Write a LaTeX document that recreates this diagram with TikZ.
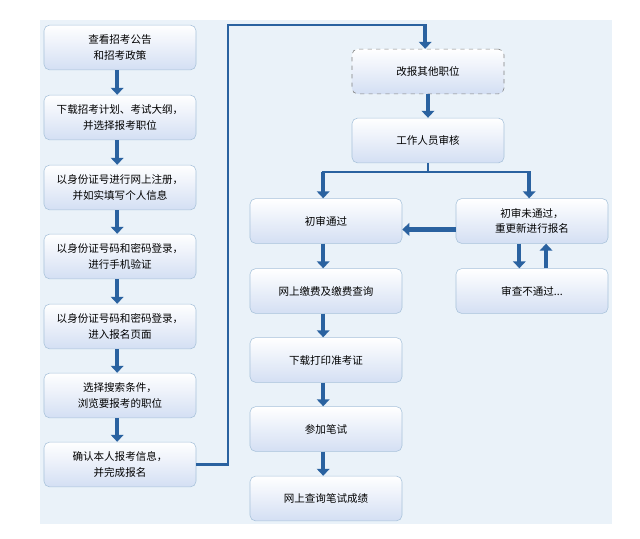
\documentclass[tikz,border=0pt]{standalone}
\usepackage{fontspec}
\newfontfamily\cjk{Noto Sans CJK SC}
\usetikzlibrary{arrows.meta}
\definecolor{pfeil}{HTML}{2A62A0}
\definecolor{rand}{HTML}{A9C3DB}
\definecolor{hell}{HTML}{EAF2F9}
\tikzset{
	kasten/.style={draw=rand, rounded corners=4pt, top color=white, bottom color=blue!5!hell!80!rand,
		minimum width=3.8cm, minimum height=1.12cm, align=center,
		font=\cjk\fontsize{7.5}{11}\selectfont},
	pfeilstil/.style={draw=pfeil, line width=3pt, -{Triangle[length=5pt,width=9pt]}},
	linie/.style={draw=pfeil, line width=2pt}
}
\begin{document}
\begin{tikzpicture}[x=0.025cm, y=-0.025cm]
	\useasboundingbox (0,0) rectangle (640,539);
	% Hintergrund
	\fill[hell] (40,20) rectangle (612,524);
	% linke Spalte
	\node[kasten] (k1) at (120,47.5) {查看招考公告\\和招考政策};
	\node[kasten] (k2) at (120,117.5) {下载招考计划、考试大纲，\\并选择报考职位};
	\node[kasten] (k3) at (120,187.5) {以身份证号进行网上注册，\\并如实填写个人信息};
	\node[kasten] (k4) at (120,256.5) {以身份证号码和密码登录，\\进行手机验证};
	\node[kasten] (k5) at (120,326.5) {以身份证号码和密码登录，\\进入报名页面};
	\node[kasten] (k6) at (120,395.5) {选择搜索条件，\\浏览要报考的职位};
	\node[kasten] (k7) at (120,464.5) {确认本人报考信息，\\并完成报名};
	\foreach \a/\b in {k1/k2,k2/k3,k3/k4,k4/k5,k5/k6,k6/k7}
		\draw[pfeilstil] ([xshift=-2pt]\a.south) -- ([xshift=-2pt]\b.north);
	% rechte Seite
	\node[kasten, dashed, draw=gray] (andere) at (428,71.5) {改报其他职位};
	\node[kasten] (pruef) at (428,140.5) {工作人员审核};
	\node[kasten] (ok) at (326,221) {初审通过};
	\node[kasten] (nok) at (532,221) {初审未通过，\\重更新进行报名};
	\node[kasten] (nein) at (532,291) {审查不通过...};
	\node[kasten] (zahl) at (326,291) {网上缴费及缴费查询};
	\node[kasten] (druck) at (326,360) {下载打印准考证};
	\node[kasten] (test) at (326,429) {参加笔试};
	\node[kasten] (note) at (326,498.5) {网上查询笔试成绩};
	% Verbindungen
	\coordinate (u1) at (228,464.5);
	\coordinate (u2) at (228,25);
	\coordinate (u3) at ([xshift=-2pt]andere.north |- u2);
	\draw[linie] (k7.east) -- (u1) -- (u2) -- ([xshift=1pt]u3);
	\draw[pfeilstil] (u3) -- ([xshift=-2pt]andere.north);
	\draw[pfeilstil] (andere) -- (pruef);
	\coordinate (v) at (428,172);
	\coordinate (vl) at ([xshift=-2pt]ok.north |- v);
	\coordinate (vr) at ([xshift=-2pt]nok.north |- v);
	\draw[linie] (pruef.south) -- (v);
	\draw[linie] ([xshift=-1pt]vl) -- ([xshift=1pt]vr);
	\draw[pfeilstil] (vl) -- ([xshift=-2pt]ok.north);
	\draw[pfeilstil] (vr) -- ([xshift=-2pt]nok.north);
	\draw[pfeilstil] ([yshift=-6pt]nok.west) -- ([yshift=-6pt]ok.east);
	\draw[pfeilstil] ([xshift=-9pt]nok.south) -- ([xshift=-9pt]nein.north);
	\draw[pfeilstil] ([xshift=10pt]nein.north) -- ([xshift=10pt]nok.south);
	\foreach \a/\b in {ok/zahl,zahl/druck,druck/test,test/note}
		\draw[pfeilstil] ([xshift=-2pt]\a.south) -- ([xshift=-2pt]\b.north);
\end{tikzpicture}
\end{document}
